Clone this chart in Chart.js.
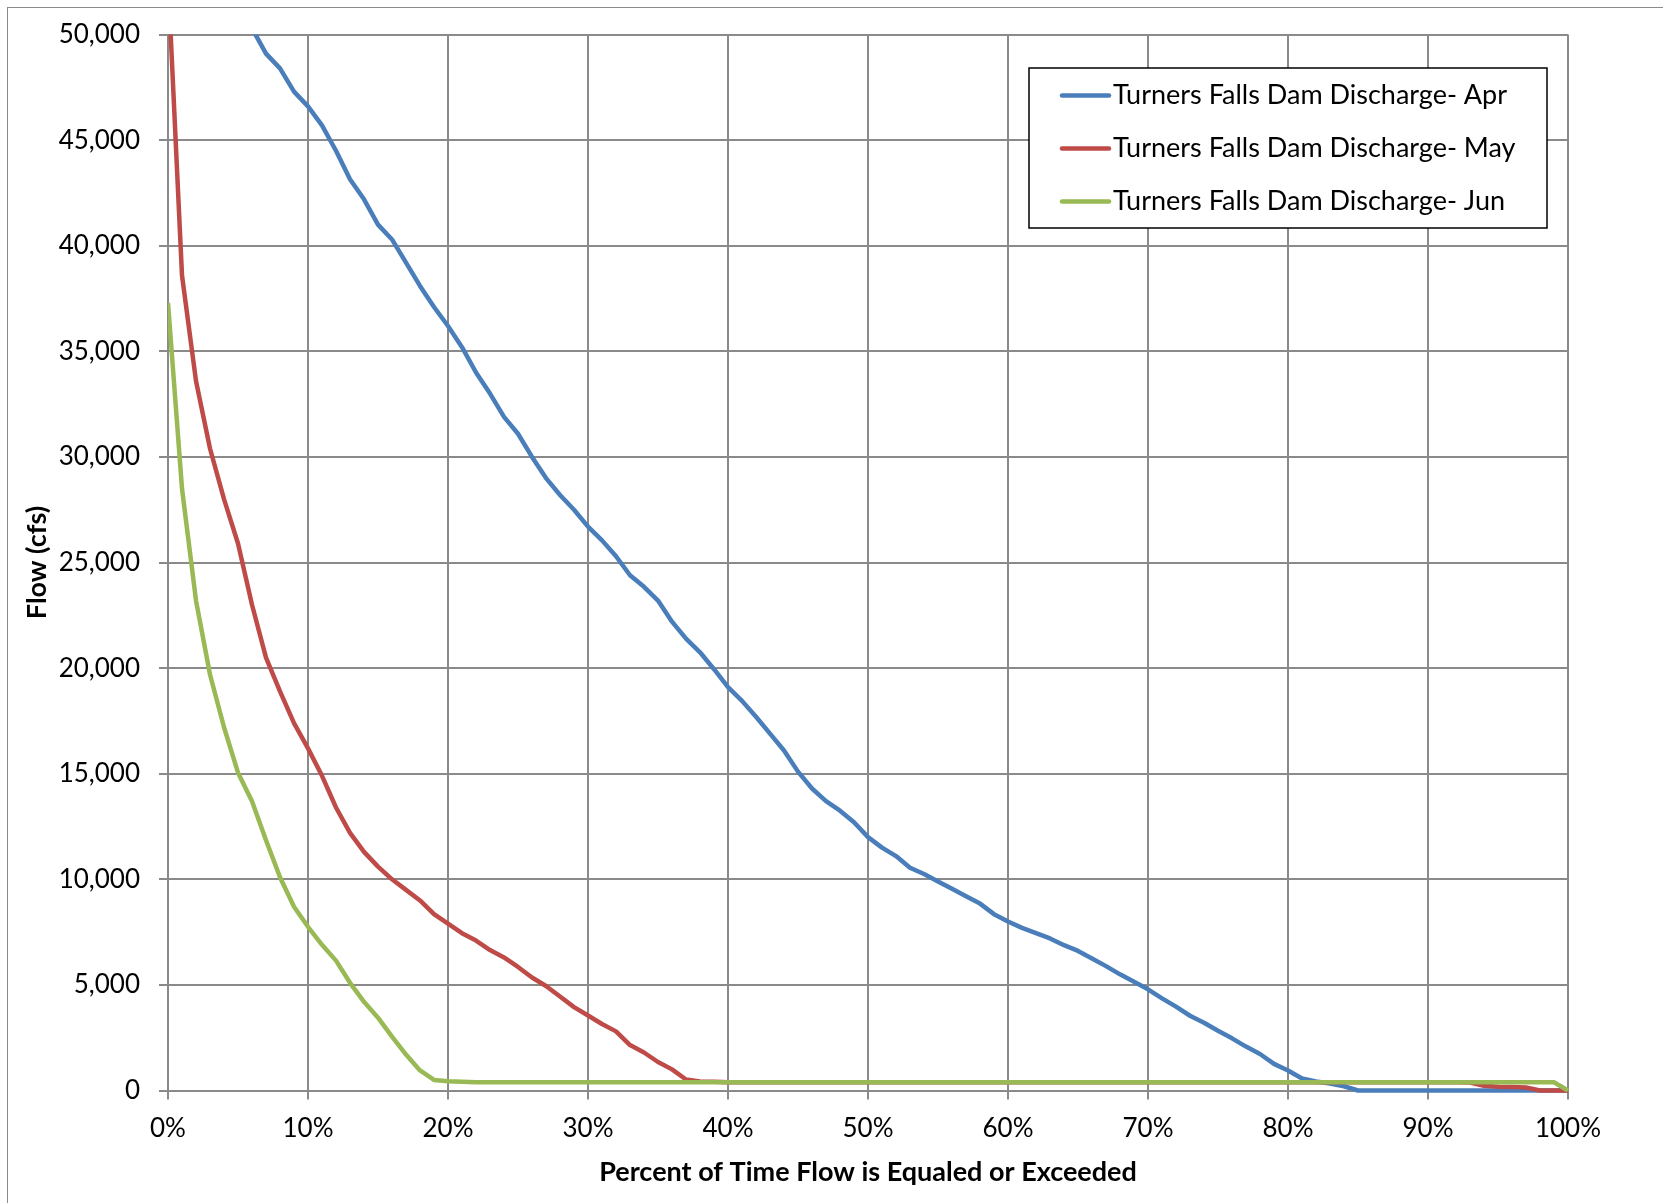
<!DOCTYPE html>
<html>
<head>
<meta charset="utf-8">
<script src="https://cdn.jsdelivr.net/npm/chart.js@4.4.1/dist/chart.umd.min.js"></script>
<style>
  body { margin: 0; background: #fff; }
  #wrap { position: relative; width: 1663px; height: 1203px; overflow: hidden; }
  #frame { position: absolute; left: 7px; top: 7px; width: 1700px; height: 1250px;
           border-left: 1px solid #8a8a8a; border-top: 1px solid #8a8a8a; }
  canvas { position: absolute; left: 0; top: 0; }
</style>
</head>
<body>
<div id="wrap">
  <div id="frame"></div>
  <canvas id="flowChart" width="1663" height="1203"></canvas>
</div>
<script>
// percent of time flow is equaled or exceeded
const percents = [
    0, 1, 2, 3, 4, 5, 6, 7, 8, 9,
    10, 11, 12, 13, 14, 15, 16, 17, 18, 19,
    20, 21, 22, 23, 24, 25, 26, 27, 28, 29,
    30, 31, 32, 33, 34, 35, 36, 37, 38, 39,
    40, 41, 42, 43, 44, 45, 46, 47, 48, 49,
    50, 51, 52, 53, 54, 55, 56, 57, 58, 59,
    60, 61, 62, 63, 64, 65, 66, 67, 68, 69,
    70, 71, 72, 73, 74, 75, 76, 77, 78, 79,
    80, 81, 82, 83, 84, 85, 86, 87, 88, 89,
    90, 91, 92, 93, 94, 95, 96, 97, 98, 99,
    100
];

// flow (cfs)
const flowApr = [
    95000, 68000, 60000, 56000, 53500, 51800, 50300, 49100, 48400, 47300,
    46600, 45700, 44500, 43150, 42200, 41000, 40300, 39200, 38100, 37100,
    36200, 35200, 34000, 33000, 31900, 31100, 30000, 29000, 28200, 27500,
    26700, 26050, 25300, 24400, 23850, 23200, 22200, 21400, 20750, 19950,
    19100, 18450, 17700, 16900, 16100, 15100, 14300, 13700, 13250, 12700,
    12000, 11500, 11100, 10550, 10250, 9900, 9550, 9200, 8850, 8350,
    8000, 7700, 7450, 7200, 6880, 6610, 6250, 5890, 5500, 5150,
    4790, 4360, 3970, 3540, 3210, 2830, 2470, 2080, 1730, 1260,
    945, 570, 430, 330, 200, 0, 0, 0, 0, 0,
    0, 0, 0, 0, 0, 0, 0, 0, 0, 0,
    0
];

const flowMay = [
    52700, 38600, 33600, 30400, 28000, 25900, 23000, 20500, 18900, 17400,
    16200, 14900, 13400, 12200, 11300, 10600, 10000, 9500, 9000, 8350,
    7900, 7450, 7100, 6650, 6300, 5850, 5350, 4950, 4450, 3950,
    3550, 3150, 2800, 2150, 1800, 1350, 1000, 520, 430, 410,
    390, 390, 390, 390, 390, 390, 390, 390, 390, 390,
    390, 390, 390, 390, 390, 390, 390, 390, 390, 390,
    390, 390, 390, 390, 390, 390, 390, 390, 390, 390,
    390, 390, 390, 390, 390, 390, 390, 390, 390, 390,
    390, 390, 390, 390, 390, 390, 390, 390, 390, 390,
    390, 390, 390, 380, 220, 180, 160, 140, 0, 0,
    0
];

const flowJun = [
    37300, 28500, 23200, 19700, 17200, 15050, 13700, 11850, 10100, 8700,
    7750, 6900, 6150, 5100, 4200, 3450, 2550, 1700, 950, 500,
    440, 410, 390, 390, 390, 390, 390, 390, 390, 390,
    390, 390, 390, 390, 390, 390, 390, 390, 390, 390,
    390, 390, 390, 390, 390, 390, 390, 390, 390, 390,
    390, 390, 390, 390, 390, 390, 390, 390, 390, 390,
    390, 390, 390, 390, 390, 390, 390, 390, 390, 390,
    390, 390, 390, 390, 390, 390, 390, 390, 390, 390,
    390, 390, 390, 390, 390, 390, 390, 390, 390, 390,
    390, 390, 390, 390, 390, 390, 390, 390, 390, 390,
    0
];

const seriesNames = [
    'Turners Falls Dam Discharge- Apr',
    'Turners Falls Dam Discharge- May',
    'Turners Falls Dam Discharge- Jun'
];
const seriesColors = ['#4a7ebb', '#be4b48', '#98b954'];

const gridColor = '#8a8a8a';

function toPoints(values) {
    return values.map((v, i) => ({ x: percents[i], y: v }));
}

// boxed legend in the upper right, drawn like the Excel one
const boxLegend = {
    id: 'boxLegend',
    afterDraw(chart) {
        const ctx = chart.ctx;
        const x = 1029, y = 68, w = 518, h = 160;
        ctx.save();
        ctx.fillStyle = '#fff';
        ctx.fillRect(x, y, w, h);
        ctx.strokeStyle = '#000';
        ctx.lineWidth = 1.5;
        ctx.strokeRect(x, y, w, h);
        ctx.font = '27px Lato';
        ctx.textBaseline = 'middle';
        chart.data.datasets.forEach((ds, i) => {
            const rowY = 95.5 + i * 53;
            ctx.strokeStyle = ds.borderColor;
            ctx.lineWidth = 4.5;
            ctx.lineCap = 'round';
            ctx.beginPath();
            ctx.moveTo(1062, rowY);
            ctx.lineTo(1109, rowY);
            ctx.stroke();
            ctx.fillStyle = '#000';
            ctx.fillText(ds.label, 1113, rowY);
        });
        ctx.restore();
    }
};

Chart.defaults.font.family = 'Lato';
Chart.defaults.color = '#000';

const ctx = document.getElementById('flowChart').getContext('2d');

const chart = new Chart(ctx, {
    type: 'line',
    data: {
        datasets: [
            { label: seriesNames[0], data: toPoints(flowApr), borderColor: seriesColors[0], order: 2 },
            { label: seriesNames[1], data: toPoints(flowMay), borderColor: seriesColors[1], order: 1 },
            { label: seriesNames[2], data: toPoints(flowJun), borderColor: seriesColors[2], order: 0 },
        ],
    },
    options: {
        responsive: false,
        animation: false,
        layout: {
            padding: { top: 33.5, right: 95, bottom: 0, left: 0 }
        },
        elements: {
            line: { borderWidth: 4.5, tension: 0, borderJoinStyle: 'round', fill: false },
            point: { radius: 0 }
        },
        datasets: {
            line: { clip: { left: 0, top: 0, right: 6, bottom: 6 } }
        },
        plugins: {
            legend: { display: false },
            tooltip: { enabled: false }
        },
        scales: {
            x: {
                type: 'linear',
                min: 0,
                max: 100,
                afterFit: (scale) => { scale.height = 112.5; },
                ticks: {
                    stepSize: 10,
                    font: { size: 26 },
                    padding: 14,
                    maxRotation: 0,
                    callback: (v) => v + '%'
                },
                grid: { color: gridColor, lineWidth: 2, tickLength: 9 },
                border: { color: gridColor, width: 2 },
                title: {
                    display: true,
                    text: 'Percent of Time Flow is Equaled or Exceeded',
                    font: { size: 27, weight: 'bold' },
                    padding: { top: 0, bottom: 14.8 }
                }
            },
            y: {
                min: 0,
                max: 50000,
                afterFit: (scale) => { scale.width = 168; },
                ticks: {
                    stepSize: 5000,
                    font: { size: 26 },
                    padding: 19,
                    callback: (v) => v.toLocaleString('en-US')
                },
                grid: { color: gridColor, lineWidth: 2, tickLength: 9 },
                border: { color: gridColor, width: 2 },
                title: {
                    display: true,
                    text: 'Flow (cfs)',
                    font: { size: 27, weight: 'bold' },
                    padding: { top: 20.8, bottom: 0 }
                }
            }
        }
    },
    plugins: [boxLegend]
});
</script>
</body>
</html>
